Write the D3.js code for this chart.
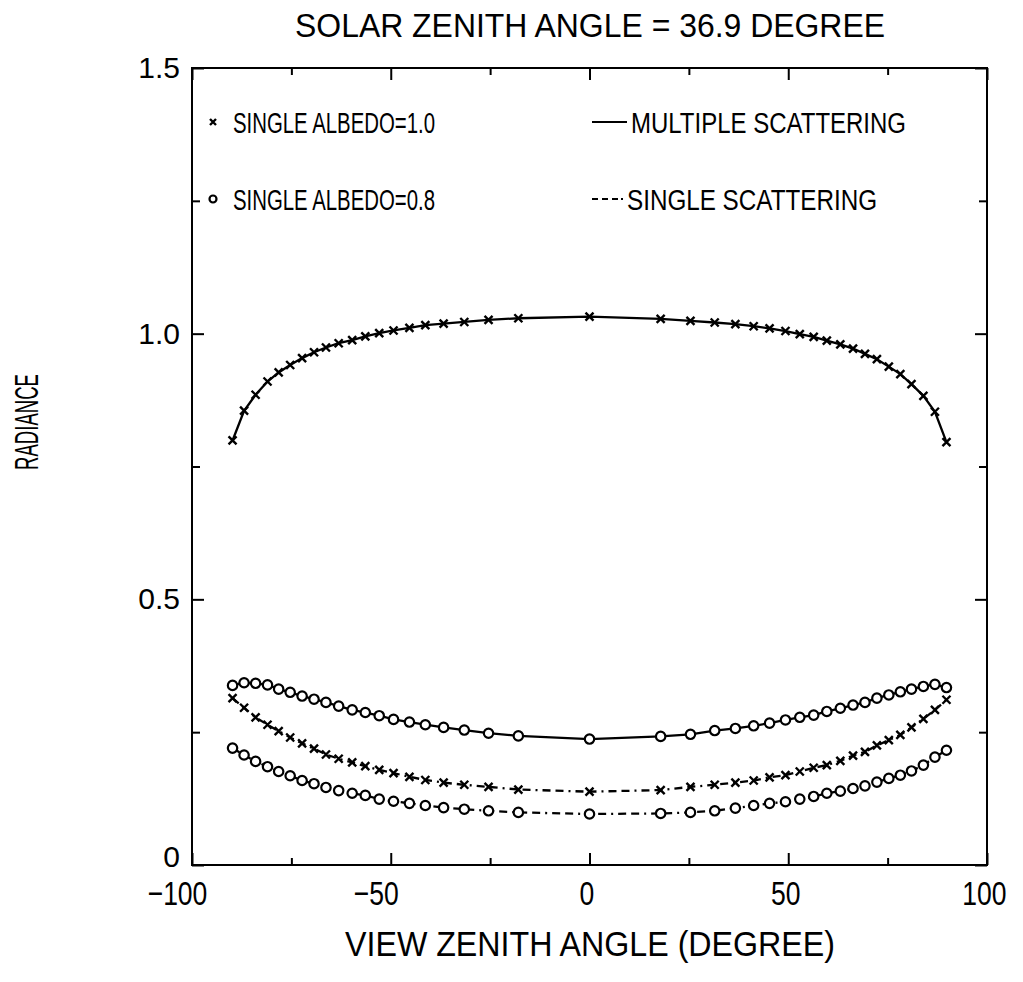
<!DOCTYPE html>
<html>
<head>
<meta charset="utf-8">
<script src="https://cdn.jsdelivr.net/npm/d3@7"></script>
<style>
body { margin: 0; background: #fff; }
text { fill: #000; }
.narrow { font-family: "Liberation Sans", "DejaVu Sans", sans-serif; }
.wide { font-family: "Liberation Sans", "DejaVu Sans", sans-serif; }
</style>
</head>
<body>
<svg id="chart" width="1023" height="982"></svg>
<script>
"use strict";

// view zenith angles of the computed points (degree)
const viewAngles = [
    -89.8, -86.9, -84.0, -81.0, -78.2, -75.3, -72.3, -69.3, -66.3, -63.1,
    -59.7, -56.4, -52.9, -49.3, -45.3, -41.3, -36.7, -31.5, -25.4, -17.9,
    0,
    17.9, 25.4, 31.5, 36.7, 41.3, 45.3, 49.3, 52.9, 56.4, 59.7,
    63.1, 66.3, 69.3, 72.3, 75.3, 78.2, 81.0, 84.0, 86.9, 89.8
];

// multiple scattering, single albedo = 1.0
const multiAlbedo10 = [
    0.799, 0.855, 0.885, 0.910, 0.927, 0.941, 0.954, 0.965, 0.974, 0.982,
    0.988, 0.995, 1.001, 1.006, 1.011, 1.016, 1.019, 1.022, 1.026, 1.029,
    1.032,
    1.028, 1.024, 1.021, 1.018, 1.014, 1.010, 1.005, 0.999, 0.994, 0.987,
    0.980, 0.972, 0.962, 0.952, 0.938, 0.924, 0.905, 0.883, 0.853, 0.796
];

// multiple scattering, single albedo = 0.8
const multiAlbedo08 = [
    0.338, 0.343, 0.342, 0.339, 0.331, 0.325, 0.318, 0.312, 0.306, 0.299,
    0.292, 0.287, 0.281, 0.274, 0.269, 0.264, 0.259, 0.254, 0.248, 0.243,
    0.237,
    0.242, 0.246, 0.253, 0.257, 0.262, 0.267, 0.273, 0.278, 0.282, 0.289,
    0.295, 0.301, 0.306, 0.314, 0.320, 0.326, 0.331, 0.336, 0.340, 0.334
];

// single scattering, single albedo = 1.0
const singleAlbedo10 = [
    0.314, 0.296, 0.278, 0.264, 0.252, 0.240, 0.229, 0.219, 0.208, 0.200,
    0.193, 0.186, 0.179, 0.173, 0.166, 0.160, 0.155, 0.151, 0.147, 0.142,
    0.138,
    0.141, 0.147, 0.151, 0.155, 0.159, 0.165, 0.169, 0.176, 0.183, 0.188,
    0.196, 0.206, 0.213, 0.225, 0.235, 0.245, 0.259, 0.275, 0.292, 0.311
];

// single scattering, single albedo = 0.8
const singleAlbedo08 = [
    0.220, 0.207, 0.195, 0.185, 0.176, 0.168, 0.159, 0.153, 0.146, 0.140,
    0.135, 0.131, 0.124, 0.120, 0.116, 0.112, 0.108, 0.105, 0.102, 0.099,
    0.096,
    0.097, 0.099, 0.102, 0.107, 0.112, 0.116, 0.119, 0.124, 0.129, 0.135,
    0.139, 0.144, 0.149, 0.156, 0.163, 0.169, 0.177, 0.188, 0.203, 0.216
];

const xTicks = [-100, -50, 0, 50, 100];
const xMinorTicks = [-75, -25, 25, 75];
const yTicks = [0, 0.5, 1.0, 1.5];
const yTickLabels = ["0", "0.5", "1.0", "1.5"];
const yMinorTicks = [0.25, 0.75, 1.25];

const titleText = "SOLAR ZENITH ANGLE = 36.9 DEGREE";
const xLabelText = "VIEW ZENITH ANGLE (DEGREE)";
const yLabelText = "RADIANCE";

const DASH = "8,5,8,5,2,5";

const series = [
    {values: multiAlbedo10, marker: "cross", dashed: false},
    {values: multiAlbedo08, marker: "circle", dashed: false},
    {values: singleAlbedo10, marker: "cross", dashed: true},
    {values: singleAlbedo08, marker: "circle", dashed: true},
];

const svg = d3.select("#chart");
const plotLeft = 192, plotRight = 987, plotTop = 68, plotBottom = 865;

const x = d3.scaleLinear([-100, 100], [plotLeft, plotRight]);
const y = d3.scaleLinear([0, 1.5], [plotBottom, plotTop]);

// ticks, all pointing inward
function tickLayer(axis, transform) {
    const g = svg.append("g").attr("transform", transform).call(axis);
    g.select(".domain").remove();
    g.selectAll("line").attr("stroke", "#000").attr("stroke-width", 2);
    return g;
}

const xAxisBottom = tickLayer(
    d3.axisBottom(x).tickValues(xTicks).tickSize(-12).tickPadding(0)
        .tickFormat(d => d < 0 ? "\u2212" + Math.abs(d) : d),
    `translate(0,${plotBottom})`);
// condensed look of the plotter font
xAxisBottom.selectAll("text")
    .attr("class", "narrow")
    .attr("font-size", 34)
    .attr("y", 40)
    .attr("dy", null)
    .attr("transform", d => `translate(${d < 0 ? -15 : -3},0) scale(0.78,1)`);
tickLayer(d3.axisBottom(x).tickValues(xMinorTicks).tickSize(-7).tickFormat(""),
    `translate(0,${plotBottom})`);
tickLayer(d3.axisTop(x).tickValues(xTicks).tickSize(-12).tickFormat(""),
    `translate(0,${plotTop})`);
tickLayer(d3.axisTop(x).tickValues(xMinorTicks).tickSize(-7).tickFormat(""),
    `translate(0,${plotTop})`);

const yAxisLeft = tickLayer(
    d3.axisLeft(y).tickValues(yTicks).tickSize(-12).tickPadding(12)
        .tickFormat((d, i) => yTickLabels[i]),
    `translate(${plotLeft},0)`);
yAxisLeft.selectAll("text")
    .attr("class", "wide")
    .attr("font-size", 30)
    .attr("dy", d => d === 0 ? "0.05em" : "0.32em");
tickLayer(d3.axisLeft(y).tickValues(yMinorTicks).tickSize(-8).tickFormat(""),
    `translate(${plotLeft},0)`);
tickLayer(d3.axisRight(y).tickValues(yTicks).tickSize(-12).tickFormat(""),
    `translate(${plotRight},0)`);
tickLayer(d3.axisRight(y).tickValues(yMinorTicks).tickSize(-8).tickFormat(""),
    `translate(${plotRight},0)`);

svg.selectAll(".tick text").attr("fill", "#000");

// frame
svg.append("rect")
    .attr("x", plotLeft).attr("y", plotTop)
    .attr("width", plotRight - plotLeft).attr("height", plotBottom - plotTop)
    .attr("fill", "none").attr("stroke", "#000").attr("stroke-width", 2);

// curves
const line = d3.line()
    .x((d, i) => x(viewAngles[i]))
    .y(d => y(d));

function drawMarker(g, kind, size) {
    if (kind === "circle") {
        g.append("circle").attr("r", size)
            .attr("fill", "#fff").attr("stroke", "#000").attr("stroke-width", 2.2);
    } else {
        g.append("path")
            .attr("d", `M${-size},${-size}L${size},${size}M${-size},${size}L${size},${-size}`)
            .attr("stroke", "#000").attr("stroke-width", 2.4);
    }
}

series.forEach(s => {
    svg.append("path")
        .datum(s.values)
        .attr("d", line)
        .attr("fill", "none")
        .attr("stroke", "#000")
        .attr("stroke-width", 2.3)
        .attr("stroke-dasharray", s.dashed ? DASH : null);

    svg.append("g").selectAll("g")
        .data(s.values)
        .enter().append("g")
        .attr("transform", (d, i) => `translate(${x(viewAngles[i])},${y(d)})`)
        .each(function() { drawMarker(d3.select(this), s.marker, s.marker === "circle" ? 4.7 : 4); });
});

// legend
const legendMarkers = [
    {kind: "cross", label: "SINGLE ALBEDO=1.0", cy: 122, len: 202},
    {kind: "circle", label: "SINGLE ALBEDO=0.8", cy: 199, len: 202},
];
const legendLines = [
    {dashed: false, label: "MULTIPLE SCATTERING", cy: 122, len: 275},
    {dashed: true, label: "SINGLE SCATTERING", cy: 199, len: 250},
];

legendMarkers.forEach(m => {
    const g = svg.append("g").attr("transform", `translate(213,${m.cy})`);
    drawMarker(g, m.kind, m.kind === "circle" ? 3.5 : 3);
    svg.append("text")
        .attr("class", "narrow")
        .attr("x", 233).attr("y", m.cy + 11)
        .attr("font-size", 29)
        .attr("textLength", m.len).attr("lengthAdjust", "spacingAndGlyphs")
        .text(m.label);
});

legendLines.forEach(l => {
    svg.append("line")
        .attr("x1", 592).attr("x2", l.dashed ? 624 : 627)
        .attr("y1", l.cy).attr("y2", l.cy)
        .attr("stroke", "#000").attr("stroke-width", 2)
        .attr("stroke-dasharray", l.dashed ? "6,4,6,4,6,3,2" : null);
    svg.append("text")
        .attr("class", "narrow")
        .attr("x", l.dashed ? 627 : 631).attr("y", l.cy + 11)
        .attr("font-size", 29)
        .attr("textLength", l.len).attr("lengthAdjust", "spacingAndGlyphs")
        .text(l.label);
});

// titles
svg.append("text")
    .attr("class", "narrow")
    .attr("x", 590).attr("y", 37)
    .attr("text-anchor", "middle")
    .attr("font-size", 33)
    .attr("textLength", 590).attr("lengthAdjust", "spacingAndGlyphs")
    .text(titleText);

svg.append("text")
    .attr("class", "narrow")
    .attr("x", 590).attr("y", 956)
    .attr("text-anchor", "middle")
    .attr("font-size", 35)
    .attr("textLength", 490).attr("lengthAdjust", "spacingAndGlyphs")
    .text(xLabelText);

svg.append("text")
    .attr("class", "narrow")
    .attr("transform", "translate(38,422) rotate(-90)")
    .attr("text-anchor", "middle")
    .attr("font-size", 34)
    .attr("textLength", 96).attr("lengthAdjust", "spacingAndGlyphs")
    .text(yLabelText);
</script>
</body>
</html>
